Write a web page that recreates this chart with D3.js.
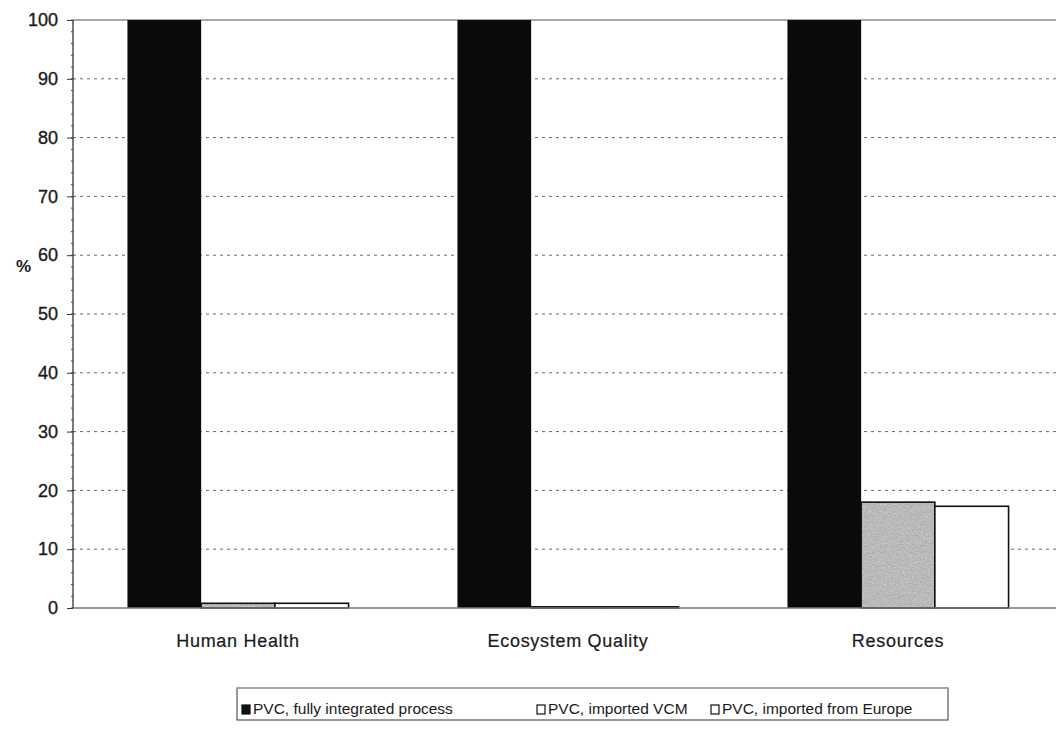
<!DOCTYPE html>
<html>
<head>
<meta charset="utf-8">
<script src="https://cdn.jsdelivr.net/npm/d3@7"></script>
<style>
  html, body { margin: 0; padding: 0; background: #fff; }
  svg { display: block; font-family: "Liberation Sans", Arial, sans-serif; }
</style>
</head>
<body>
<svg id="chart" width="1056" height="729"></svg>
<script>
// Damage categories and relative scores (%) for each PVC supply route
const categories = ["Human Health", "Ecosystem Quality", "Resources"];
const seriesNames = ["PVC, fully integrated process", "PVC, imported VCM", "PVC, imported from Europe"];
const fullyIntegrated = [100, 100, 100];
const importedVCM = [0.8, 0.2, 18];
const importedEurope = [0.8, 0.2, 17.3];
const yTicks = [0, 10, 20, 30, 40, 50, 60, 70, 80, 90, 100];

const series = [fullyIntegrated, importedVCM, importedEurope];
const fills = ["#0a0a0a", "url(#grain)", "#ffffff"];
const legendFills = ["#111111", "#ffffff", "#ffffff"];

const svg = d3.select("#chart");
const margin = { left: 73, top: 20, right: -7, bottom: 121 };
const W = 1056, H = 729;
const plotW = W - margin.left - margin.right;
const plotH = H - margin.top - margin.bottom;

// Grainy light-grey fill for the imported-VCM bars
const defs = svg.append("defs");
const flt = defs.append("filter").attr("id", "noise").attr("x", 0).attr("y", 0).attr("width", 1).attr("height", 1);
flt.append("feTurbulence").attr("type", "fractalNoise").attr("baseFrequency", 0.9).attr("numOctaves", 2).attr("seed", 4).attr("result", "t");
flt.append("feColorMatrix").attr("in", "t").attr("type", "matrix")
  .attr("values", "0 0 0 0 0  0 0 0 0 0  0 0 0 0 0  0 0 0 -1.2 1.05")
  .attr("result", "dots");
flt.append("feComposite").attr("in", "dots").attr("in2", "SourceGraphic").attr("operator", "in").attr("result", "d2");
flt.append("feComponentTransfer").attr("in", "d2").append("feFuncA").attr("type", "linear").attr("slope", 0.3);
const pat = defs.append("pattern").attr("id", "grain").attr("patternUnits", "userSpaceOnUse")
  .attr("width", 120).attr("height", 120);
pat.append("rect").attr("width", 120).attr("height", 120).attr("fill", "#d6d6d6");
pat.append("rect").attr("width", 120).attr("height", 120).attr("fill", "#d6d6d6").attr("filter", "url(#noise)");

const g = svg.append("g").attr("transform", `translate(${margin.left},${margin.top})`);

const x0 = d3.scaleBand().domain(categories).range([0, plotW]).paddingInner(0.33).paddingOuter(0.165);
const x1 = d3.scaleBand().domain(d3.range(series.length)).range([0, x0.bandwidth()]).padding(0);
const y = d3.scaleLinear().domain([0, 100]).range([plotH, 0]);

// Dotted horizontal gridlines
g.append("g").selectAll("line").data(yTicks.filter(t => t > 0 && t < 100)).join("line")
  .attr("x1", 0).attr("x2", plotW)
  .attr("y1", d => y(d)).attr("y2", d => y(d))
  .attr("stroke", "#666").attr("stroke-width", 1).attr("stroke-dasharray", "3,4");

// Top frame line
g.append("line").attr("x1", 0).attr("x2", plotW).attr("y1", 0).attr("y2", 0)
  .attr("stroke", "#555").attr("stroke-width", 1.2);

// Bars
const groups = g.append("g").selectAll("g").data(categories).join("g")
  .attr("transform", d => `translate(${x0(d)},0)`);
series.forEach((vals, si) => {
  groups.append("rect")
    .attr("x", x1(si))
    .attr("width", x1.bandwidth())
    .attr("y", (d, ci) => y(vals[ci]))
    .attr("height", (d, ci) => plotH - y(vals[ci]))
    .attr("fill", fills[si])
    .attr("stroke", "#111")
    .attr("stroke-width", si === 0 ? 0 : 1.6);
});

// X baseline
g.append("line").attr("x1", 0).attr("x2", plotW).attr("y1", plotH).attr("y2", plotH)
  .attr("stroke", "#777").attr("stroke-width", 1.5);

// Y axis with minor ticks
const yAxis = d3.axisLeft(y).tickValues(yTicks).tickSize(6).tickPadding(9);
const ya = g.append("g").call(yAxis);
ya.select(".domain").attr("stroke", "#333").attr("stroke-width", 1.3).attr("d", `M0,${plotH}V0`);
ya.selectAll(".tick line").attr("stroke", "#333").attr("x2", -6);
ya.selectAll(".tick text").attr("font-size", 18).attr("fill", "#1a1a1a")
  .attr("stroke", "#1a1a1a").attr("stroke-width", 0.35)
  .attr("font-family", "'Liberation Sans', Arial, sans-serif");
g.append("g").selectAll("line").data(d3.range(0, 101, 2)).join("line")
  .attr("x1", -2).attr("x2", 0).attr("y1", d => y(d)).attr("y2", d => y(d))
  .attr("stroke", "#444").attr("stroke-width", 1);

// Axis title
svg.append("text").attr("x", 16).attr("y", 272).attr("font-size", 17).attr("font-weight", "bold")
  .attr("fill", "#1a1a1a").text("%");

// Category labels
g.append("g").selectAll("text").data(categories).join("text")
  .attr("x", d => x0(d) + x0.bandwidth() / 2)
  .attr("y", plotH + 39)
  .attr("text-anchor", "middle").attr("font-size", 18).attr("letter-spacing", 0.7)
  .attr("fill", "#1a1a1a").attr("stroke", "#1a1a1a").attr("stroke-width", 0.2)
  .text(d => d);

// Legend
const lg = svg.append("g");
lg.append("rect").attr("x", 237).attr("y", 688).attr("width", 711).attr("height", 32)
  .attr("fill", "#fff").attr("stroke", "#333").attr("stroke-width", 1);
lg.append("line").attr("x1", 237).attr("x2", 948).attr("y1", 688).attr("y2", 688)
  .attr("stroke", "#aaa").attr("stroke-width", 1.5);
const legendX = [242, 537, 711];
seriesNames.forEach((name, i) => {
  lg.append("rect").attr("x", legendX[i]).attr("y", 705).attr("width", 8).attr("height", 9)
    .attr("fill", legendFills[i]).attr("stroke", "#111").attr("stroke-width", 1.2);
  lg.append("text").attr("x", legendX[i] + 11).attr("y", 714).attr("font-size", 15.5)
    .attr("fill", "#1a1a1a").text(name);
});
</script>
</body>
</html>
